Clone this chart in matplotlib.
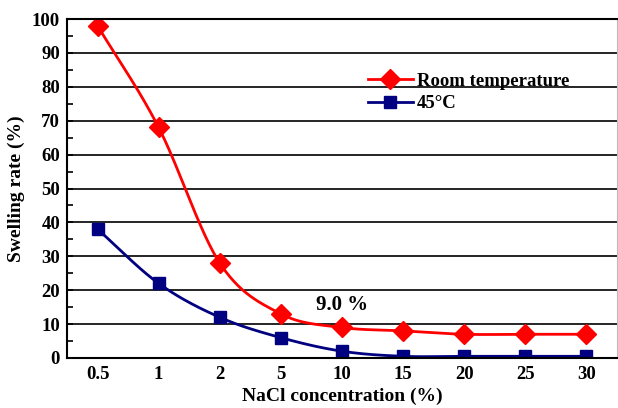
import numpy as np
import matplotlib.pyplot as plt

conc_labels = ['0.5', '1', '2', '5', '10', '15', '20', '25', '30']
room_temp = [98, 68, 28, 13, 9, 8, 7, 7, 7]
hot_45 = [38, 22, 12, 6, 2, 0.5, 0.5, 0.5, 0.5]

plt.rcParams['font.family'] = ['Liberation Serif', 'DejaVu Serif']
plt.rcParams['font.weight'] = 'bold'


def smooth(y, n=30):
    # Catmull-Rom spline through the points, only for drawing the line
    y = np.asarray(y, dtype=float)
    x = np.arange(len(y), dtype=float)
    p = np.concatenate([[2 * y[0] - y[1]], y, [2 * y[-1] - y[-2]]])
    xs, ys = [], []
    for i in range(len(y) - 1):
        t = np.linspace(0, 1, n, endpoint=False)
        p0, p1, p2, p3 = p[i], p[i + 1], p[i + 2], p[i + 3]
        yy = 0.5 * ((2 * p1) + (-p0 + p2) * t + (2 * p0 - 5 * p1 + 4 * p2 - p3) * t ** 2
                    + (-p0 + 3 * p1 - 3 * p2 + p3) * t ** 3)
        xs.append(x[i] + t)
        ys.append(yy)
    xs.append([x[-1]])
    ys.append([y[-1]])
    return np.concatenate(xs), np.concatenate(ys)


fig = plt.figure(figsize=(6.18, 4.08), dpi=100)
ax = fig.add_axes([67 / 618, 50 / 408, 550 / 618, 339 / 408])

x = np.arange(len(conc_labels))
for y, color, marker, ms, label in [(room_temp, '#ff0000', 'D', 10, 'Room temperature'),
                                    (hot_45, '#000080', 's', 9, '45\u00b0C')]:
    sx, sy = smooth(y)
    ax.plot(sx, sy, color=color, lw=2)
    ax.plot(x, y, linestyle='none', marker=marker, color=color, ms=ms)
    ax.plot([], [], color=color, lw=2, marker=marker, ms=ms, label=label)

ax.set_xlim(-0.5, 8.5)
ax.set_ylim(0, 100)
ax.set_yticks(range(0, 101, 10))
ax.set_yticks(range(5, 100, 10), minor=True)
ax.set_xticks(x)
ax.set_xticklabels(conc_labels)
ax.grid(axis='y', color='black', lw=1.2)
ax.set_axisbelow(True)
ax.tick_params(axis='y', which='both', direction='in', labelsize=13.5, length=4, width=1.2, pad=5)
ax.tick_params(axis='x', length=0, labelsize=13.5, pad=6)
ax.spines['left'].set_linewidth(1.5)
ax.spines['bottom'].set_linewidth(1.5)
ax.spines['top'].set_linewidth(1.5)
ax.spines['right'].set_color('#bbbbbb')
ax.spines['right'].set_linewidth(0.8)

ax.set_xlabel('NaCl concentration (%)', fontsize=14, fontweight='bold', labelpad=3)
ax.set_ylabel('Swelling rate (%)', fontsize=14, fontweight='bold', labelpad=5)
ax.text(4, 15.5, '9.0 %', fontsize=15, fontweight='bold', ha='center', va='center')

ax.legend(loc='upper left', bbox_to_anchor=(0.53, 0.87), frameon=False, fontsize=13.5,
          handlelength=2.4, handletextpad=0.2, labelspacing=0.3, borderpad=0)

fig.savefig('out.png', dpi=100)
